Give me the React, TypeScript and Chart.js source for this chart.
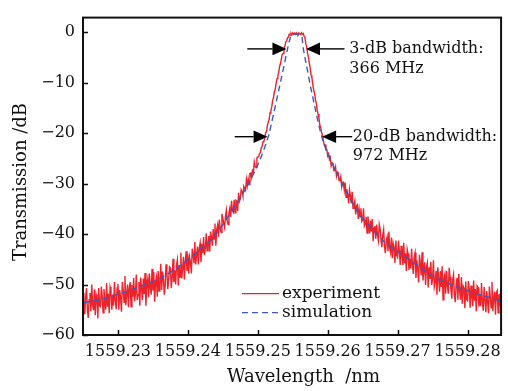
import React, { useEffect, useRef } from 'react';
import { Chart, registerables } from 'chart.js';

Chart.register(...registerables);

const FONT = '"DejaVu Serif", "Liberation Serif", serif';

// Axes
const X_MIN = 1559.225;
const X_MAX = 1559.2848;
const Y_MIN = -60;
const Y_MAX = 2.9;
const xTicks = [1559.23, 1559.24, 1559.25, 1559.26, 1559.27, 1559.28];
const yTicks = [-60, -50, -40, -30, -20, -10, 0];

// Experiment: uniform wavelength grid
const expStart = 1559.225;
const expStep = 0.000125;
const expDb = [
  -51.7, -54.1, -55.9, -52.5, -50.7, -54.9, -56.6, -53.0, -51.7, -55.3, -50.0, -54.0, -55.1, -51.0, -56.1, -52.0, -52.9, -56.7, -50.7, -54.2,
  -54.4, -50.4, -52.4, -55.6, -50.9, -53.1, -55.0, -49.7, -54.4, -51.8, -55.7, -50.5, -51.3, -55.0, -52.0, -54.2, -49.5, -53.2, -54.9, -50.7,
  -49.9, -55.0, -51.1, -52.6, -55.4, -49.5, -51.2, -53.5, -48.3, -54.1, -51.9, -50.0, -54.5, -50.7, -49.5, -54.4, -50.1, -52.4, -48.7, -53.3,
  -51.9, -48.0, -53.1, -52.0, -49.5, -54.2, -48.6, -50.7, -53.1, -48.8, -51.9, -47.7, -54.2, -49.8, -48.9, -52.5, -47.8, -50.6, -52.0, -46.9,
  -51.2, -47.5, -53.4, -49.5, -48.5, -52.4, -47.3, -51.3, -50.1, -45.9, -51.1, -47.4, -48.6, -52.0, -50.3, -46.0, -47.7, -50.9, -49.0, -46.5,
  -46.7, -50.7, -48.9, -44.9, -49.5, -47.2, -50.0, -46.1, -45.1, -50.2, -46.2, -48.5, -43.7, -48.8, -46.8, -44.5, -49.0, -45.6, -43.4, -47.3,
  -44.0, -47.8, -44.6, -45.6, -47.8, -42.9, -44.1, -45.8, -41.6, -46.0, -44.2, -42.5, -46.0, -42.8, -41.8, -45.6, -42.0, -43.8, -40.6, -44.2,
  -42.8, -39.9, -43.3, -42.3, -40.4, -43.5, -39.5, -40.7, -42.3, -39.0, -41.0, -37.9, -42.3, -39.1, -38.2, -40.5, -37.1, -38.9, -39.7, -36.0,
  -36.9, -37.9, -38.7, -36.6, -35.3, -37.4, -38.1, -35.8, -34.9, -36.6, -33.4, -35.4, -35.7, -33.2, -35.8, -33.3, -33.5, -35.4, -31.8, -33.5,
  -33.0, -31.2, -31.6, -32.4, -30.5, -30.9, -31.3, -29.2, -30.4, -29.1, -30.2, -28.0, -27.9, -28.8, -27.4, -27.7, -25.7, -26.6, -26.8, -24.9,
  -24.7, -24.7, -24.0, -23.9, -22.9, -22.6, -21.7, -21.6, -20.9, -19.9, -19.7, -18.5, -17.8, -17.3, -16.0, -15.5, -14.8, -13.5, -12.9, -11.8,
  -11.3, -10.1, -9.2, -8.6, -7.9, -6.7, -6.2, -5.3, -4.4, -4.2, -3.2, -2.8, -1.9, -1.8, -1.1, -1.0, -0.4, -0.55, -0.2, -0.5,
  -0.15, -0.45, -0.2, -0.4, -0.1, -0.35, -0.5, -0.15, -0.3, -0.45, -0.1, -0.4, -0.25, -0.8, -1.1, -2.3, -2.9, -4.2, -4.9, -6.2,
  -7.1, -8.5, -9.1, -10.4, -11.5, -12.1, -13.4, -14.1, -15.5, -16.2, -17.0, -18.4, -18.8, -19.9, -20.3, -21.5, -22.3, -22.3, -23.3, -23.3,
  -24.5, -24.1, -25.2, -24.8, -26.5, -25.9, -26.0, -27.4, -27.4, -26.7, -28.5, -27.7, -27.8, -29.4, -29.3, -28.6, -30.6, -29.7, -29.7, -31.3,
  -29.8, -32.7, -31.1, -32.2, -33.9, -31.2, -32.4, -33.9, -31.6, -34.9, -34.1, -33.4, -36.1, -34.4, -34.2, -37.0, -35.1, -36.6, -34.9, -37.5,
  -37.2, -34.9, -38.4, -38.0, -36.6, -39.8, -36.5, -38.0, -39.9, -37.3, -39.5, -37.0, -41.4, -38.8, -38.4, -40.9, -38.1, -40.2, -41.3, -38.1,
  -39.0, -41.1, -42.6, -40.2, -39.1, -42.4, -43.8, -41.4, -40.6, -43.4, -39.5, -42.8, -43.7, -40.7, -44.8, -41.9, -42.7, -45.7, -41.3, -44.2,
  -44.6, -41.3, -43.3, -46.1, -42.3, -44.4, -46.1, -41.7, -45.8, -43.8, -47.3, -43.0, -43.9, -47.1, -44.9, -46.8, -42.9, -46.3, -47.9, -44.5,
  -43.7, -48.7, -45.2, -46.8, -49.6, -44.1, -45.9, -48.2, -43.6, -49.2, -47.3, -45.6, -50.1, -46.5, -45.7, -50.6, -46.6, -48.9, -45.5, -50.1,
  -48.9, -45.2, -50.5, -49.6, -47.3, -52.0, -46.6, -48.8, -51.4, -47.3, -50.5, -46.4, -53.0, -48.8, -48.0, -51.8, -47.3, -50.2, -51.8, -46.7,
  -48.5, -51.0, -52.8, -49.0, -48.0, -52.2, -53.5, -49.9, -48.7, -53.0, -47.9, -51.3, -53.0, -48.5, -53.8, -50.3, -50.7, -54.7, -49.4, -53.0,
  -53.2, -49.3, -50.9, -54.6, -50.2, -52.4, -54.3, -49.2, -53.2, -50.9, -55.3, -50.3, -50.6, -54.4, -52.1, -54.3, -49.7, -53.5, -55.2, -50.5,
  -50.5, -55.5, -51.3, -53.4, -55.7, -50.4, -52.3, -54.6, -49.5, -55.3, -52.6, -51.4, -56.0, -51.6, -51.2, -55.6, -51.9, -54.3, -50.7, -55.4,
];

// Simulation
const simWl = [
  1559.22501, 1559.22744, 1559.23028, 1559.23313, 1559.23598, 1559.23883, 1559.24168,
  1559.24382, 1559.24638, 1559.2488, 1559.25009, 1559.25094, 1559.25158, 1559.25229,
  1559.25301, 1559.25365, 1559.25429, 1559.25457, 1559.25479, 1559.2555, 1559.25628,
  1559.2565, 1559.25707, 1559.25764, 1559.25835, 1559.25892, 1559.25949, 1559.26063,
  1559.26234, 1559.26447, 1559.2659, 1559.26832, 1559.2706, 1559.27302, 1559.27544,
  1559.27801, 1559.28014, 1559.28299, 1559.28484,
];
const simDb = [
  -53.6, -53.0, -51.8, -50.4, -48.8, -46.3, -43.1,
  -40.3, -35.2, -29.7, -26.0, -23.0, -20.3, -16.0,
  -11.4, -7.3, -3.1, -1.5, -0.6, -0.4, -0.7,
  -3.1, -7.3, -11.4, -16.0, -19.5, -22.2, -25.9,
  -30.8, -36.0, -38.3, -41.8, -44.0, -46.4, -48.6,
  -50.2, -51.3, -52.5, -53.3,
];

// Annotations (data coordinates)
const arrows = [
  { db: -3.3, tail: 1559.2485, tip: 1559.2541 },
  { db: -3.3, tail: 1559.2624, tip: 1559.2569 },
  { db: -20.7, tail: 1559.2467, tip: 1559.2514 },
  { db: -20.7, tail: 1559.2635, tip: 1559.2592 },
];
const notes = [
  { wl: 1559.2631, db: -3.3, text: '3-dB bandwidth:' },
  { wl: 1559.2631, db: -7.2, text: '366 MHz' },
  { wl: 1559.2636, db: -20.7, text: '20-dB bandwidth:' },
  { wl: 1559.2636, db: -24.5, text: '972 MHz' },
];
const legendItems = ['experiment', 'simulation'];

const RED = '#ee2228';
const BLUE = '#3a5ac0';
const INK = '#111';

const fmtY = (v: number) => (v < 0 ? '\u2212' + Math.abs(v) : String(v));

const framePlugin = {
  id: 'frameAndNotes',
  afterDatasetsDraw(chart: any) {
    const { ctx, chartArea: a, scales } = chart;
    const x = scales.x;
    const y = scales.y;
    ctx.save();
    // frame
    ctx.strokeStyle = INK;
    ctx.lineWidth = 2;
    ctx.strokeRect(a.left, a.top, a.right - a.left, a.bottom - a.top);
    // inward ticks
    ctx.lineWidth = 1.5;
    ctx.beginPath();
    xTicks.forEach((v) => {
      const px = Math.round(x.getPixelForValue(v)) + 0.5;
      ctx.moveTo(px, a.bottom);
      ctx.lineTo(px, a.bottom - 5);
    });
    yTicks.forEach((v) => {
      const py = Math.round(y.getPixelForValue(v)) + 0.5;
      ctx.moveTo(a.left, py);
      ctx.lineTo(a.left + 5, py);
    });
    ctx.stroke();

    // arrows
    ctx.fillStyle = '#000';
    ctx.strokeStyle = '#000';
    arrows.forEach((ar) => {
      const py = y.getPixelForValue(ar.db);
      const tx = x.getPixelForValue(ar.tail);
      const hx = x.getPixelForValue(ar.tip);
      const dir = hx > tx ? 1 : -1;
      const headLen = 14;
      const halfH = 6.3;
      ctx.lineWidth = 1.4;
      ctx.beginPath();
      ctx.moveTo(tx, py);
      ctx.lineTo(hx - dir * headLen, py);
      ctx.stroke();
      ctx.beginPath();
      ctx.moveTo(hx, py);
      ctx.lineTo(hx - dir * headLen, py - halfH);
      ctx.lineTo(hx - dir * headLen, py + halfH);
      ctx.closePath();
      ctx.fill();
    });

    // notes
    ctx.font = '16px ' + FONT;
    ctx.fillStyle = INK;
    ctx.textAlign = 'left';
    ctx.textBaseline = 'middle';
    notes.forEach((n) => {
      ctx.fillText(n.text, x.getPixelForValue(n.wl), y.getPixelForValue(n.db));
    });

    // legend
    ctx.font = '17px ' + FONT;
    const lx = a.left + 159;
    const ly = a.top + 276;
    const rowH = 19;
    legendItems.forEach((label, i) => {
      const yy = ly + i * rowH;
      ctx.beginPath();
      ctx.lineWidth = 1.4;
      if (i === 0) {
        ctx.strokeStyle = RED;
        ctx.setLineDash([]);
      } else {
        ctx.strokeStyle = BLUE;
        ctx.setLineDash([6, 4]);
      }
      ctx.moveTo(lx, yy);
      ctx.lineTo(lx + 37, yy);
      ctx.stroke();
      ctx.setLineDash([]);
      ctx.fillStyle = INK;
      ctx.fillText(label, lx + 40, yy);
    });
    ctx.restore();
  },
};

export default function App() {
  const ref = useRef<HTMLCanvasElement | null>(null);
  useEffect(() => {
    document.body.style.margin = '0';
    const canvas = ref.current;
    if (!canvas) return;
    const expPoints = expDb.map((d, i) => ({ x: expStart + i * expStep, y: d }));
    const simPoints = simDb.map((d, i) => ({ x: simWl[i], y: d }));
    const chart = new Chart(canvas, {
      type: 'line',
      data: {
        datasets: [
          {
            label: 'simulation',
            data: simPoints,
            borderColor: BLUE,
            borderWidth: 1.4,
            borderDash: [6, 4],
            pointRadius: 0,
            cubicInterpolationMode: 'monotone',
            fill: false,
          },
          {
            label: 'experiment',
            data: expPoints,
            borderColor: RED,
            borderWidth: 1.4,
            pointRadius: 0,
            tension: 0,
            fill: false,
          },
        ],
      },
      options: {
        animation: false,
        responsive: false,
        parsing: false,
        normalized: true,
        layout: { padding: { left: 0, right: 5, top: 7, bottom: 0 } },
        plugins: {
          legend: { display: false },
          tooltip: { enabled: false },
        },
        scales: {
          x: {
            type: 'linear',
            min: X_MIN,
            max: X_MAX,
            grid: { display: false, drawTicks: false },
            border: { display: false },
            afterBuildTicks: (s: any) => {
              s.ticks = xTicks.map((v) => ({ value: v }));
            },
            afterFit: (s: any) => {
              s.height = 56;
            },
            ticks: {
              padding: 7,
              maxRotation: 0,
              autoSkip: false,
              color: INK,
              font: { family: FONT, size: 16 },
              callback: (v: any) => Number(v).toFixed(2),
            },
            title: {
              display: true,
              text: '    Wavelength  /nm',
              color: INK,
              font: { family: FONT, size: 18 },
              padding: { top: 0, bottom: 3 },
            },
          },
          y: {
            type: 'linear',
            min: Y_MIN,
            max: Y_MAX,
            grid: { display: false, drawTicks: false },
            border: { display: false },
            afterBuildTicks: (s: any) => {
              s.ticks = yTicks.map((v) => ({ value: v }));
            },
            afterFit: (s: any) => {
              s.width = 83;
            },
            ticks: {
              padding: 8,
              autoSkip: false,
              color: INK,
              font: { family: FONT, size: 16 },
              callback: (v: any) => fmtY(Number(v)),
            },
            title: {
              display: true,
              text: 'Transmission /dB  ',
              color: INK,
              font: { family: FONT, size: 18 },
              padding: { top: 11, bottom: 0 },
            },
          },
        },
      } as any,
      plugins: [framePlugin],
    });
    return () => chart.destroy();
  }, []);
  return (
    <div style={{ width: 508, height: 391 }}>
      <canvas ref={ref} width={508} height={391} style={{ display: 'block' }} />
    </div>
  );
}
